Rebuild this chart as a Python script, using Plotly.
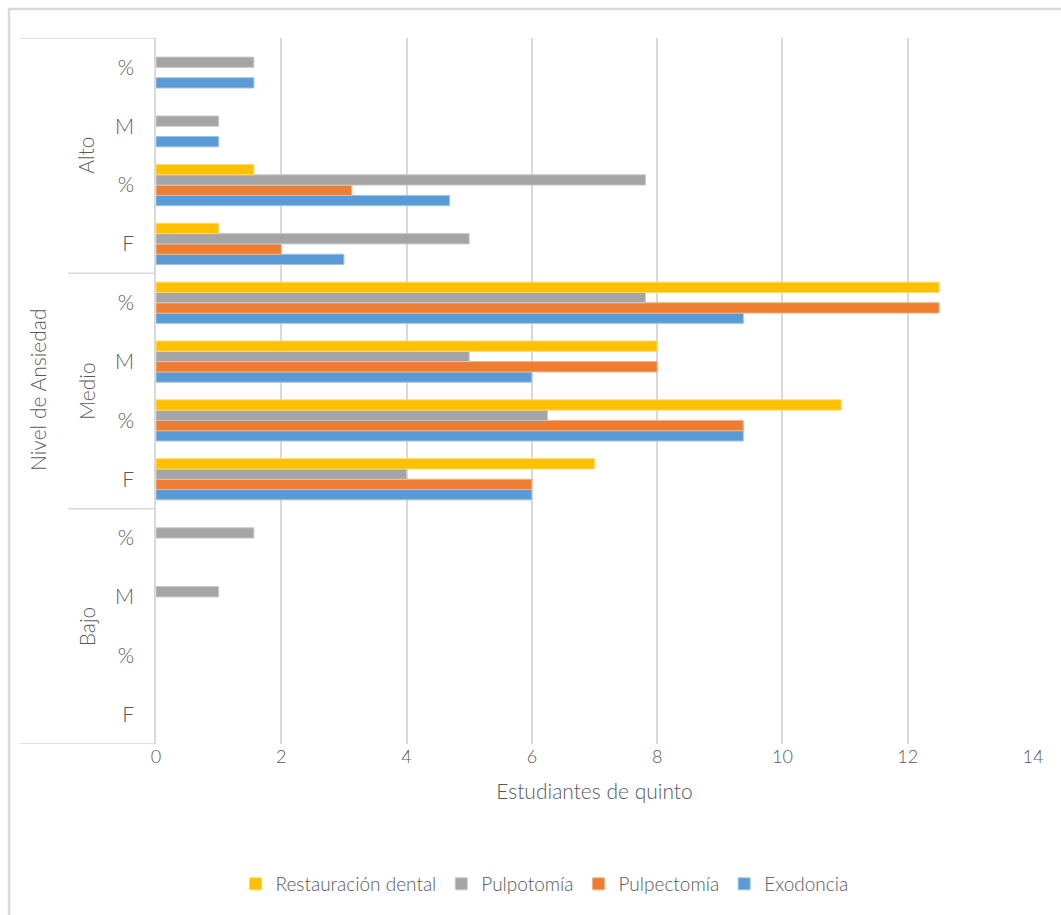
import plotly.graph_objects as go

# Category layout: anxiety level groups, each with sub-rows F, %, M, % (bottom to top)
levels = ["Bajo", "Medio", "Alto"]
sub_rows = ["F", "%", "M", "%"]
row_ids = [f"{lvl}|{i}" for lvl in levels for i in range(len(sub_rows))]
row_text = [s for _ in levels for s in sub_rows]

# Values per series, ordered like row_ids
exodoncia = [None, None, None, None, 6, 9.375, 6, 9.375, 3, 4.6875, 1, 1.5625]
pulpectomia = [None, None, None, None, 6, 9.375, 8, 12.5, 2, 3.125, None, None]
pulpotomia = [None, None, 1, 1.5625, 4, 6.25, 5, 7.8125, 5, 7.8125, 1, 1.5625]
restauracion = [None, None, None, None, 7, 10.9375, 8, 12.5, 1, 1.5625, None, None]

series = [
    ("Exodoncia", exodoncia, "#5B9BD5", "#9DC3E6"),
    ("Pulpectomía", pulpectomia, "#ED7D31", "#F4B183"),
    ("Pulpotomía", pulpotomia, "#A5A5A5", "#C9C9C9"),
    ("Restauración dental", restauracion, "#FFC000", "#FFD966"),
]

FONT = "Lato, Carlito, 'Liberation Sans', sans-serif"
TXT = "#595959"
LINE = "#D9D9D9"

fig = go.Figure()
for name, vals, color, edge in series:
    fig.add_trace(go.Bar(
        name=name, x=vals, y=row_ids, orientation="h",
        marker=dict(color=color, line=dict(color=edge, width=1)),
    ))

W, H = 1061, 915
L, R, T, B = 156, 28, 38, 171
pw, ph = W - L - R, H - T - B


def px_x(px):
    return (px - L) / pw


def px_y(py):
    return (H - B - py) / ph


fig.update_layout(
    width=W, height=H,
    margin=dict(l=L, r=R, t=T, b=B),
    paper_bgcolor="white", plot_bgcolor="white",
    barmode="group", bargap=0.3, bargroupgap=0,
    font=dict(family=FONT, color=TXT, weight=300),
    showlegend=True,
    legend=dict(orientation="h", x=0.443, xanchor="center", y=px_y(884), yanchor="middle",
                traceorder="reversed", font=dict(size=19, color=TXT, weight=300),
                itemwidth=30, tracegroupgap=0),
)

fig.update_xaxes(
    range=[0, 14], dtick=2, tick0=0,
    showgrid=True, gridcolor=LINE, gridwidth=1.5,
    zeroline=False, showline=False,
    tickfont=dict(size=18, color=TXT, weight=300),
    title=dict(text="Estudiantes de quinto", font=dict(size=21, color=TXT, weight=300), standoff=18),
)
fig.update_yaxes(
    type="category", categoryorder="array", categoryarray=row_ids,
    tickmode="array", tickvals=row_ids, ticktext=row_text,
    tickfont=dict(size=21, color=TXT, weight=300), ticklabelstandoff=16,
    showgrid=False, zeroline=False,
    showline=True, linecolor=LINE, linewidth=1.5,
    range=[-0.5, len(row_ids) - 0.5],
)

shapes = []
# outer chart frame
shapes.append(dict(type="rect", xref="paper", yref="paper",
                   x0=px_x(9), x1=px_x(W + 20), y0=px_y(H + 20), y1=px_y(9),
                   line=dict(color=LINE, width=2.5), fillcolor="rgba(0,0,0,0)", layer="below"))
# category label box: top and bottom rules
shapes.append(dict(type="line", xref="paper", yref="y", x0=px_x(20), x1=0,
                   y0=len(row_ids) - 0.5, y1=len(row_ids) - 0.5, line=dict(color=LINE, width=1.5)))
shapes.append(dict(type="line", xref="paper", yref="y", x0=px_x(20), x1=0,
                   y0=-0.5, y1=-0.5, line=dict(color=LINE, width=1.5)))
# group dividers
for g in range(1, len(levels)):
    yv = g * len(sub_rows) - 0.5
    shapes.append(dict(type="line", xref="paper", yref="y", x0=px_x(68), x1=0,
                       y0=yv, y1=yv, line=dict(color=LINE, width=1.5)))

annotations = []
for g, lvl in enumerate(levels):
    annotations.append(dict(text=lvl, xref="paper", yref="y", x=px_x(86),
                            y=g * len(sub_rows) + (len(sub_rows) - 1) / 2,
                            textangle=-90, showarrow=False, xanchor="center", yanchor="middle",
                            font=dict(size=21, color=TXT, weight=300)))
annotations.append(dict(text="Nivel de Ansiedad", xref="paper", yref="paper", x=px_x(37), y=px_y(390),
                        textangle=-90, showarrow=False, xanchor="center", yanchor="middle",
                        font=dict(size=21, color=TXT, weight=300)))

fig.update_layout(shapes=shapes, annotations=annotations)

fig.write_html("out.html")
